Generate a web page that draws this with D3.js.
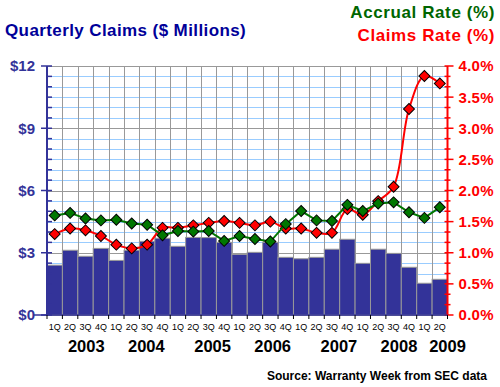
<!DOCTYPE html>
<html>
<head>
<meta charset="utf-8">
<script src="https://cdn.jsdelivr.net/npm/d3@7"></script>
<style>
  body { margin: 0; background: #fff; }
  text { font-family: "Liberation Sans", Arial, sans-serif; }
</style>
</head>
<body>
<div id="chart"></div>
<script>
// quarter labels, 2003 Q1 .. 2009 Q2
const quarters = ["1Q","2Q","3Q","4Q","1Q","2Q","3Q","4Q","1Q","2Q","3Q","4Q","1Q",
  "2Q","3Q","4Q","1Q","2Q","3Q","4Q","1Q","2Q","3Q","4Q","1Q","2Q"];
const years = ["2003","2004","2005","2006","2007","2008","2009"];
// where each year label sits, in quarter units from the left edge
const yearPos = [2.55, 6.45, 10.75, 14.65, 18.95, 22.85, 26];

// quarterly claims, $ millions
const claims = [2.40, 3.12, 2.83, 3.21, 2.63, 3.12, 3.55, 3.70, 3.31, 3.74, 3.73, 3.50, 2.92,
  3.02, 3.50, 2.78, 2.71, 2.78, 3.17, 3.65, 2.49, 3.17, 2.97, 2.30, 1.53, 1.72];
// accrual rate, %
const accrual = [1.60, 1.64, 1.55, 1.52, 1.53, 1.47, 1.45, 1.28, 1.35, 1.34, 1.35, 1.19, 1.27,
  1.22, 1.18, 1.46, 1.67, 1.52, 1.51, 1.77, 1.67, 1.79, 1.81, 1.65, 1.56, 1.73];
// claims rate, %
const claimsRate = [1.30, 1.39, 1.36, 1.27, 1.13, 1.07, 1.13, 1.40, 1.40, 1.44, 1.48, 1.51, 1.48,
  1.44, 1.50, 1.39, 1.39, 1.32, 1.32, 1.70, 1.61, 1.83, 2.06, 3.31, 3.84, 3.72];

const leftTicks = [0, 3, 6, 9, 12];
const rightTicks = [0, 0.5, 1, 1.5, 2, 2.5, 3, 3.5, 4];

const width = 500, height = 387;
const margin = { top: 66, right: 53, bottom: 72, left: 47 };

const svg = d3.select("#chart").append("svg")
  .attr("width", width)
  .attr("height", height);

const idx = d3.range(quarters.length);
const x = d3.scaleBand().domain(idx).range([margin.left, width - margin.right + 0.5]).padding(0);
const xq = d3.scaleLinear().domain([0, quarters.length]).range(x.range());
const yL = d3.scaleLinear().domain([0, 12]).range([height - margin.bottom, margin.top]);
const yR = d3.scaleLinear().domain([0, 4]).range([height - margin.bottom, margin.top]);

const x0 = x.range()[0], x1 = x.range()[1];
const minor = d3.range(0, 12.01, 0.5);

// horizontal grid
svg.append("g").selectAll("line").data(minor).join("line")
  .attr("x1", x0).attr("x2", x1)
  .attr("y1", d => Math.round(yL(d)) + 0.5).attr("y2", d => Math.round(yL(d)) + 0.5)
  .attr("stroke", d => d % 3 === 0 ? "#999" : "#99ccff")
  .attr("stroke-width", 1);

// vertical grid
svg.append("g").selectAll("line").data(d3.range(1, quarters.length)).join("line")
  .attr("x1", d => Math.round(xq(d)) + 0.5).attr("x2", d => Math.round(xq(d)) + 0.5)
  .attr("y1", yL(12)).attr("y2", yL(0))
  .attr("stroke", "#999");

// bars
svg.append("g").selectAll("rect").data(claims).join("rect")
  .attr("x", (d, i) => x(i))
  .attr("y", d => yL(d))
  .attr("width", x.bandwidth())
  .attr("height", d => yL(0) - yL(d))
  .attr("fill", "#333399")
  .attr("stroke", "#999")
  .attr("stroke-width", 1);

// left axis
const gl = svg.append("g").attr("transform", `translate(${x0},0)`);
gl.append("line").attr("y1", yL(12)).attr("y2", yL(0)).attr("stroke", "#333399").attr("stroke-width", 2);
gl.selectAll(".mt").data(minor).join("line")
  .attr("x1", d => d % 3 === 0 ? -6 : 0).attr("x2", 5)
  .attr("y1", d => yL(d)).attr("y2", d => yL(d))
  .attr("stroke", "#333399").attr("stroke-width", 1.5);
gl.selectAll("text").data(leftTicks).join("text")
  .attr("x", -12).attr("y", d => yL(d)).attr("dy", "0.36em")
  .attr("text-anchor", "end")
  .attr("fill", "#333399").attr("font-size", 15).attr("font-weight", "bold")
  .text(d => "$" + d);

// right axis
const gr = svg.append("g").attr("transform", `translate(${x1},0)`);
gr.append("line").attr("y1", yR(4)).attr("y2", yR(0)).attr("stroke", "#ff0000").attr("stroke-width", 2);
gr.selectAll(".mt").data(d3.range(0, 25).map(i => i / 6)).join("line")
  .attr("x1", -3).attr("x2", d => Math.abs(d * 2 - Math.round(d * 2)) < 1e-6 ? 6 : 3)
  .attr("y1", d => yR(d)).attr("y2", d => yR(d))
  .attr("stroke", "#ff0000").attr("stroke-width", 1.5);
gr.selectAll("text").data(rightTicks).join("text")
  .attr("x", 11).attr("y", d => yR(d)).attr("dy", "0.36em")
  .attr("fill", "#ff0000").attr("font-size", 15).attr("font-weight", "bold")
  .attr("letter-spacing", 0.3)
  .text(d => d.toFixed(1) + "%");

// bottom axis
const gb = svg.append("g");
gb.append("line").attr("x1", x0 - 14).attr("x2", x1)
  .attr("y1", yL(0)).attr("y2", yL(0)).attr("stroke", "#333399").attr("stroke-width", 1.5);
gb.selectAll(".tk").data(d3.range(0, quarters.length + 1)).join("line")
  .attr("x1", d => xq(d)).attr("x2", d => xq(d))
  .attr("y1", yL(0)).attr("y2", yL(0) + 4)
  .attr("stroke", "#000");
gb.selectAll(".q").data(quarters).join("text")
  .attr("x", (d, i) => x(i) + x.bandwidth() / 2).attr("y", yL(0) + 15)
  .attr("text-anchor", "middle").attr("font-size", 9).attr("fill", "#000")
  .text(d => d);
gb.selectAll(".y").data(years).join("text")
  .attr("x", (d, i) => xq(yearPos[i])).attr("y", yL(0) + 37)
  .attr("text-anchor", "middle").attr("font-size", 16.5).attr("font-weight", "bold")
  .attr("fill", "#000")
  .text(d => d);

// lines
const diamond = d3.symbol(d3.symbolSquare, 60);
function series(data, color, curve) {
  const line = d3.line()
    .x((d, i) => x(i) + x.bandwidth() / 2)
    .y(d => yR(d))
    .curve(curve);
  svg.append("path").datum(data)
    .attr("fill", "none").attr("stroke", color).attr("stroke-width", 2)
    .attr("d", line);
  svg.append("g").selectAll("path").data(data).join("path")
    .attr("transform", (d, i) => `translate(${x(i) + x.bandwidth() / 2},${yR(d)}) rotate(45)`)
    .attr("d", diamond)
    .attr("fill", color).attr("stroke", "#000").attr("stroke-width", 1);
}
series(claimsRate, "#ff0000", d3.curveCatmullRom.alpha(0.5));
series(accrual, "#007700", d3.curveLinear);

// titles
svg.append("text").attr("x", 5).attr("y", 36)
  .attr("font-size", 17).attr("font-weight", "bold").attr("fill", "#000099")
  .attr("letter-spacing", 0.4)
  .text("Quarterly Claims ($ Millions)");
svg.append("text").attr("x", 495).attr("y", 18).attr("text-anchor", "end")
  .attr("font-size", 17).attr("font-weight", "bold").attr("fill", "#006600")
  .attr("letter-spacing", 0.6)
  .text("Accrual Rate (%)");
svg.append("text").attr("x", 495).attr("y", 41).attr("text-anchor", "end")
  .attr("font-size", 17).attr("font-weight", "bold").attr("fill", "#ff0000")
  .attr("letter-spacing", 0.6)
  .text("Claims Rate (%)");
svg.append("text").attr("x", 487).attr("y", 380).attr("text-anchor", "end")
  .attr("font-size", 12).attr("font-weight", "bold").attr("fill", "#000")
  .text("Source: Warranty Week from SEC data");
</script>
</body>
</html>
